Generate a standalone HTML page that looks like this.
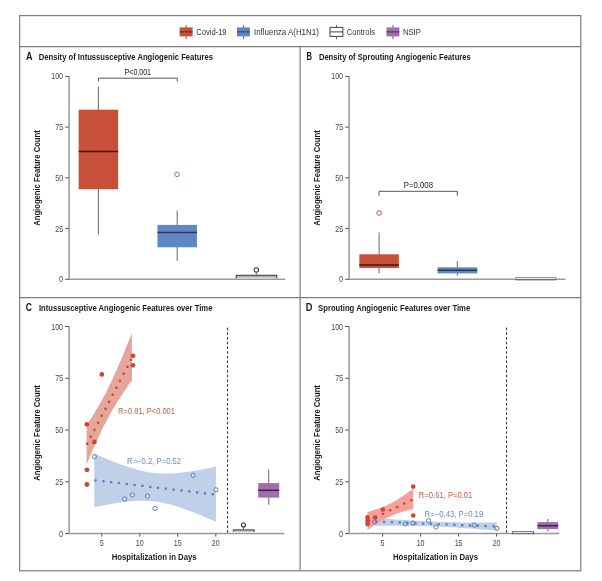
<!DOCTYPE html>
<html lang="en"><head><meta charset="utf-8"><title>Angiogenic Features</title>
<style>html,body{margin:0;padding:0;background:#fff}svg{display:block}text{font-family:"Liberation Sans",sans-serif;fill:#222}.t{font-size:9.9px;font-weight:bold;fill:#1a1a1a}.k{font-size:8.6px;fill:#4a4a4a}.l{font-size:8.6px;fill:#333}.tl{font-size:10.5px;font-weight:bold;fill:#1a1a1a}.b{font-size:9px;font-weight:bold;fill:#1a1a1a}.p{font-size:8.2px}</style></head><body>
<svg width="602" height="581" viewBox="0 0 602 581">
<rect width="602" height="581" fill="#fff"/>
<g fill="none" stroke="#7d7d82" stroke-width="1.2">
<rect x="19.6" y="15.6" width="561.2" height="555.2"/>
<path d="M19.6 46.6H580.8M19.6 297.55H580.8M300.1 46.6V570.8"/>
</g>
<path d="M186.14999999999998 25V39.2" stroke="#555" stroke-width="0.9" fill="none"/>
<rect x="179.7" y="27.4" width="12.9" height="9" fill="#C8503A" stroke="#C8503A" stroke-width="0"/>
<path d="M179.7 31.9H192.6" stroke="#5a2a20" stroke-width="1" fill="none"/>
<path d="M243.45 25V39.2" stroke="#555" stroke-width="0.9" fill="none"/>
<rect x="237" y="27.4" width="12.9" height="9" fill="#6086C4" stroke="#6086C4" stroke-width="0"/>
<path d="M237 31.9H249.9" stroke="#2a3f66" stroke-width="1" fill="none"/>
<path d="M336.45 25V39.2" stroke="#444" stroke-width="0.9" fill="none"/>
<rect x="330" y="27.4" width="12.9" height="9" fill="#fff" stroke="#444" stroke-width="1"/>
<path d="M330 31.9H342.9" stroke="#444" stroke-width="1" fill="none"/>
<path d="M392.95 25V39.2" stroke="#555" stroke-width="0.9" fill="none"/>
<rect x="386.5" y="27.4" width="12.9" height="9" fill="#A06EAF" stroke="#A06EAF" stroke-width="0"/>
<path d="M386.5 31.9H399.4" stroke="#4a2a55" stroke-width="1" fill="none"/>
<text class="l" x="196.2" y="35" textLength="30.4" lengthAdjust="spacingAndGlyphs">Covid-19</text>
<text class="l" x="254" y="35" textLength="64.8" lengthAdjust="spacingAndGlyphs">Influenza A(H1N1)</text>
<text class="l" x="346.8" y="35" textLength="28.2" lengthAdjust="spacingAndGlyphs">Controls</text>
<text class="l" x="402.9" y="35" textLength="18" lengthAdjust="spacingAndGlyphs">NSIP</text>
<text class="tl" x="26.0" y="59.8" textLength="6.5" lengthAdjust="spacingAndGlyphs">A</text>
<text class="t" x="38.8" y="59.8" textLength="174.2" lengthAdjust="spacingAndGlyphs">Density of Intussusceptive Angiogenic Features</text>
<text class="tl" x="306.4" y="59.8" textLength="5.5" lengthAdjust="spacingAndGlyphs">B</text>
<text class="t" x="318.9" y="59.8" textLength="151.8" lengthAdjust="spacingAndGlyphs">Density of Sprouting Angiogenic Features</text>
<text class="tl" x="25.8" y="310.8" textLength="6.2" lengthAdjust="spacingAndGlyphs">C</text>
<text class="t" x="38.9" y="310.8" textLength="173.5" lengthAdjust="spacingAndGlyphs">Intussusceptive Angiogenic Features over Time</text>
<text class="tl" x="305.8" y="310.8" textLength="6.7" lengthAdjust="spacingAndGlyphs">D</text>
<text class="t" x="318.1" y="310.8" textLength="152.1" lengthAdjust="spacingAndGlyphs">Sprouting Angiogenic Features over Time</text>
<path d="M69.1 75.9V279.3H285.2" fill="none" stroke="#999" stroke-width="1.5"/>
<path d="M65.1 76.4H68.89999999999999M65.1 127.12H68.89999999999999M65.1 177.85H68.89999999999999M65.1 228.58H68.89999999999999M65.1 279.3H68.89999999999999" fill="none" stroke="#555" stroke-width="1"/>
<text class="k" x="63.1" y="79.4" textLength="11.9" lengthAdjust="spacingAndGlyphs" text-anchor="end">100</text>
<text class="k" x="63.1" y="130.12" textLength="7.9" lengthAdjust="spacingAndGlyphs" text-anchor="end">75</text>
<text class="k" x="63.1" y="180.85" textLength="7.9" lengthAdjust="spacingAndGlyphs" text-anchor="end">50</text>
<text class="k" x="63.1" y="231.58" textLength="7.9" lengthAdjust="spacingAndGlyphs" text-anchor="end">25</text>
<text class="k" x="63.1" y="282.3" textLength="4.0" lengthAdjust="spacingAndGlyphs" text-anchor="end">0</text>
<text class="b" transform="translate(40.0 178) rotate(-90)" text-anchor="middle" textLength="95.5" lengthAdjust="spacingAndGlyphs">Angiogenic Feature Count</text>
<path d="M349.1 75.9V279.3H565.5" fill="none" stroke="#999" stroke-width="1.5"/>
<path d="M345.1 76.4H348.90000000000003M345.1 127.12H348.90000000000003M345.1 177.85H348.90000000000003M345.1 228.58H348.90000000000003M345.1 279.3H348.90000000000003" fill="none" stroke="#555" stroke-width="1"/>
<text class="k" x="343.1" y="79.4" textLength="11.9" lengthAdjust="spacingAndGlyphs" text-anchor="end">100</text>
<text class="k" x="343.1" y="130.12" textLength="7.9" lengthAdjust="spacingAndGlyphs" text-anchor="end">75</text>
<text class="k" x="343.1" y="180.85" textLength="7.9" lengthAdjust="spacingAndGlyphs" text-anchor="end">50</text>
<text class="k" x="343.1" y="231.58" textLength="7.9" lengthAdjust="spacingAndGlyphs" text-anchor="end">25</text>
<text class="k" x="343.1" y="282.3" textLength="4.0" lengthAdjust="spacingAndGlyphs" text-anchor="end">0</text>
<text class="b" transform="translate(320.0 178) rotate(-90)" text-anchor="middle" textLength="95.5" lengthAdjust="spacingAndGlyphs">Angiogenic Feature Count</text>
<path d="M69.1 326.0V533.5H284.4" fill="none" stroke="#999" stroke-width="1.5"/>
<path d="M65.1 326.5H68.89999999999999M65.1 378.25H68.89999999999999M65.1 430.0H68.89999999999999M65.1 481.75H68.89999999999999M65.1 533.5H68.89999999999999" fill="none" stroke="#555" stroke-width="1"/>
<text class="k" x="63.1" y="329.5" textLength="11.9" lengthAdjust="spacingAndGlyphs" text-anchor="end">100</text>
<text class="k" x="63.1" y="381.25" textLength="7.9" lengthAdjust="spacingAndGlyphs" text-anchor="end">75</text>
<text class="k" x="63.1" y="433.0" textLength="7.9" lengthAdjust="spacingAndGlyphs" text-anchor="end">50</text>
<text class="k" x="63.1" y="484.75" textLength="7.9" lengthAdjust="spacingAndGlyphs" text-anchor="end">25</text>
<text class="k" x="63.1" y="536.5" textLength="4.0" lengthAdjust="spacingAndGlyphs" text-anchor="end">0</text>
<text class="b" transform="translate(40.3 432.9) rotate(-90)" text-anchor="middle" textLength="95.5" lengthAdjust="spacingAndGlyphs">Angiogenic Feature Count</text>
<path d="M349.1 326.0V533.5H559.3" fill="none" stroke="#999" stroke-width="1.5"/>
<path d="M345.1 326.5H348.90000000000003M345.1 378.25H348.90000000000003M345.1 430.0H348.90000000000003M345.1 481.75H348.90000000000003M345.1 533.5H348.90000000000003" fill="none" stroke="#555" stroke-width="1"/>
<text class="k" x="343.1" y="329.5" textLength="11.9" lengthAdjust="spacingAndGlyphs" text-anchor="end">100</text>
<text class="k" x="343.1" y="381.25" textLength="7.9" lengthAdjust="spacingAndGlyphs" text-anchor="end">75</text>
<text class="k" x="343.1" y="433.0" textLength="7.9" lengthAdjust="spacingAndGlyphs" text-anchor="end">50</text>
<text class="k" x="343.1" y="484.75" textLength="7.9" lengthAdjust="spacingAndGlyphs" text-anchor="end">25</text>
<text class="k" x="343.1" y="536.5" textLength="4.0" lengthAdjust="spacingAndGlyphs" text-anchor="end">0</text>
<text class="b" transform="translate(320.3 432.9) rotate(-90)" text-anchor="middle" textLength="95.5" lengthAdjust="spacingAndGlyphs">Angiogenic Feature Count</text>
<path d="M98.5 81.5V78.2H177.3V81.5" fill="none" stroke="#444" stroke-width="0.9"/>
<text class="p" x="137.8" y="75.3" textLength="26.5" lengthAdjust="spacingAndGlyphs" text-anchor="middle">P&lt;0.001</text>
<path d="M98.4 86.5V234.4" stroke="#7c7c7c" stroke-width="1.15" fill="none"/>
<rect x="78.65" y="109.7" width="39.5" height="79.5" fill="#C8503A"/>
<path d="M78.65 151.5H118.15" stroke="#3a1a14" stroke-width="1.5" fill="none"/>
<path d="M177.2 210.4V261" stroke="#7c7c7c" stroke-width="1.15" fill="none"/>
<rect x="157.45" y="224.9" width="39.5" height="22.4" fill="#6086C4"/>
<path d="M157.45 232.6H196.95" stroke="#2a3a5a" stroke-width="1.5" fill="none"/>
<circle cx="177.05" cy="174.4" r="2.3" fill="#fff" stroke="#6086C4" stroke-width="1.0"/>
<rect x="236.2" y="275.5" width="40.5" height="3.2" fill="#cdcdcd"/>
<path d="M236.3 278.2V275.5H276.7V278.2" fill="none" stroke="#555" stroke-width="1.3" stroke-linejoin="round"/>
<path d="M256.3 272.6V275" stroke="#666" stroke-width="0.9"/>
<circle cx="256.3" cy="270" r="2.2" fill="#fff" stroke="#333" stroke-width="1.1"/>
<path d="M379 195.7V191.3H457.3V195.7" fill="none" stroke="#444" stroke-width="0.9"/>
<text class="p" x="418.4" y="187.9" textLength="29.2" lengthAdjust="spacingAndGlyphs" text-anchor="middle">P=0.008</text>
<path d="M379.1 232.6V273.4" stroke="#7c7c7c" stroke-width="1.15" fill="none"/>
<rect x="359.35" y="254.3" width="39.5" height="13.7" fill="#C8503A"/>
<path d="M359.35 264.9H398.85" stroke="#3a1a14" stroke-width="1.5" fill="none"/>
<circle cx="379.1" cy="213" r="2.3" fill="#fff" stroke="#C8503A" stroke-width="1.0"/>
<path d="M457.4 261V275.7" stroke="#7c7c7c" stroke-width="1.15" fill="none"/>
<rect x="437.6" y="267.3" width="39.6" height="6.1" fill="#6086C4"/>
<path d="M437.6 270.3H477.2" stroke="#2a3a5a" stroke-width="1.5" fill="none"/>
<rect x="515.9" y="277.4" width="39.9" height="2.3" fill="#ececec" stroke="#888" stroke-width="0.9"/>
<path d="M515.6 279.8H556.1" stroke="#555" stroke-width="0.9"/>
<path d="M94.3 453.6L99.4 455.8L104.4 457.9L109.5 460.0L114.6 462.0L119.6 464.0L124.7 465.8L129.8 467.5L134.8 469.0L139.9 470.4L145.0 471.5L150.0 472.5L155.1 473.1L160.2 473.5L165.2 473.6L170.3 473.5L175.4 473.2L180.4 472.7L185.5 472.1L190.6 471.4L195.6 470.6L200.7 469.7L205.8 468.7L210.8 467.7L215.9 466.6L215.9 521.8L210.8 519.6L205.8 517.4L200.7 515.3L195.6 513.2L190.6 511.3L185.5 509.4L180.4 507.6L175.4 506.0L170.3 504.5L165.2 503.3L160.2 502.3L155.1 501.5L150.0 501.0L145.0 500.8L139.9 500.7L134.8 501.0L129.8 501.3L124.7 501.9L119.6 502.6L114.6 503.4L109.5 504.2L104.4 505.2L99.4 506.2L94.3 507.2Z" fill="#BFD0E8"/>
<path d="M86.6 425.0L88.5 422.2L90.4 419.3L92.3 416.4L94.1 413.4L96.0 410.3L97.9 407.1L99.8 403.9L101.7 400.5L103.6 397.0L105.5 393.4L107.4 389.7L109.2 385.8L111.1 381.9L113.0 377.8L114.9 373.6L116.8 369.4L118.7 365.1L120.6 360.7L122.5 356.2L124.3 351.7L126.2 347.1L128.1 342.5L130.0 337.9L131.9 333.2L131.9 380.4L130.0 383.1L128.1 385.8L126.2 388.5L124.3 391.2L122.5 394.0L120.6 396.9L118.7 399.8L116.8 402.8L114.9 405.9L113.0 409.1L111.1 412.3L109.2 415.7L107.4 419.2L105.5 422.8L103.6 426.5L101.7 430.3L99.8 434.3L97.9 438.3L96.0 442.5L94.1 446.7L92.3 451.0L90.4 455.4L88.5 459.9L86.6 464.4Z" fill="#E4A59B"/>
<circle cx="87.1" cy="443.8" r="1.3" fill="#CD462D"/>
<circle cx="90.8" cy="436.8" r="1.3" fill="#CD462D"/>
<circle cx="94.4" cy="429.8" r="1.3" fill="#CD462D"/>
<circle cx="98.1" cy="422.8" r="1.3" fill="#CD462D"/>
<circle cx="101.7" cy="415.8" r="1.3" fill="#CD462D"/>
<circle cx="105.4" cy="408.8" r="1.3" fill="#CD462D"/>
<circle cx="109.1" cy="401.8" r="1.3" fill="#CD462D"/>
<circle cx="112.7" cy="394.8" r="1.3" fill="#CD462D"/>
<circle cx="116.4" cy="387.8" r="1.3" fill="#CD462D"/>
<circle cx="120.0" cy="380.8" r="1.3" fill="#CD462D"/>
<circle cx="123.7" cy="373.8" r="1.3" fill="#CD462D"/>
<circle cx="127.4" cy="366.8" r="1.3" fill="#CD462D"/>
<circle cx="131.0" cy="359.8" r="1.3" fill="#CD462D"/>
<rect x="94.3" y="479.2" width="2.3" height="2.3" fill="#5580C4"/>
<rect x="102.2" y="480.1" width="2.3" height="2.3" fill="#5580C4"/>
<rect x="110.0" y="481.0" width="2.3" height="2.3" fill="#5580C4"/>
<rect x="117.8" y="481.9" width="2.3" height="2.3" fill="#5580C4"/>
<rect x="125.6" y="482.9" width="2.3" height="2.3" fill="#5580C4"/>
<rect x="133.4" y="483.8" width="2.3" height="2.3" fill="#5580C4"/>
<rect x="141.3" y="484.7" width="2.3" height="2.3" fill="#5580C4"/>
<rect x="149.1" y="485.7" width="2.3" height="2.3" fill="#5580C4"/>
<rect x="156.9" y="486.6" width="2.3" height="2.3" fill="#5580C4"/>
<rect x="164.7" y="487.5" width="2.3" height="2.3" fill="#5580C4"/>
<rect x="172.5" y="488.5" width="2.3" height="2.3" fill="#5580C4"/>
<rect x="180.4" y="489.4" width="2.3" height="2.3" fill="#5580C4"/>
<rect x="188.2" y="490.3" width="2.3" height="2.3" fill="#5580C4"/>
<rect x="196.0" y="491.2" width="2.3" height="2.3" fill="#5580C4"/>
<rect x="203.8" y="492.2" width="2.3" height="2.3" fill="#5580C4"/>
<rect x="211.7" y="493.1" width="2.3" height="2.3" fill="#5580C4"/>
<circle cx="132.9" cy="355.8" r="2.4" fill="#CD462D"/>
<circle cx="132.9" cy="365.3" r="2.4" fill="#CD462D"/>
<circle cx="101.8" cy="374.4" r="2.4" fill="#CD462D"/>
<circle cx="86.9" cy="424.3" r="2.4" fill="#CD462D"/>
<circle cx="94.4" cy="442" r="2.4" fill="#CD462D"/>
<circle cx="86.9" cy="469.8" r="2.4" fill="#CD462D"/>
<circle cx="86.9" cy="484.5" r="2.4" fill="#CD462D"/>
<circle cx="94.4" cy="456.7" r="2.1" fill="rgba(255,255,255,0.4)" stroke="#5580C4" stroke-width="1.0"/>
<circle cx="124.7" cy="499" r="2.1" fill="rgba(255,255,255,0.4)" stroke="#5580C4" stroke-width="1.0"/>
<circle cx="132.3" cy="495" r="2.1" fill="rgba(255,255,255,0.4)" stroke="#5580C4" stroke-width="1.0"/>
<circle cx="147.5" cy="496.1" r="2.1" fill="rgba(255,255,255,0.4)" stroke="#5580C4" stroke-width="1.0"/>
<circle cx="155.1" cy="508.4" r="2.1" fill="rgba(255,255,255,0.4)" stroke="#5580C4" stroke-width="1.0"/>
<circle cx="193" cy="475.3" r="2.1" fill="rgba(255,255,255,0.4)" stroke="#5580C4" stroke-width="1.0"/>
<circle cx="215.9" cy="489.8" r="2.1" fill="rgba(255,255,255,0.4)" stroke="#5580C4" stroke-width="1.0"/>
<text class="p" x="118.1" y="413.5" textLength="56.9" lengthAdjust="spacingAndGlyphs" style="fill:#C85C46">R=0.81, P&lt;0.001</text>
<text class="p" x="127.1" y="464.2" textLength="54" lengthAdjust="spacingAndGlyphs" style="fill:#668CCA">R=−0.2, P=0.52</text>
<path d="M227.55 327.6V533.4" stroke="#2a2a2a" stroke-width="1" stroke-dasharray="2.6 2.11" fill="none"/>
<rect x="233.2" y="530" width="21" height="1.9" fill="#c4c4c4"/>
<path d="M233.3 531.8V529.9H254.3V531.8" fill="none" stroke="#555" stroke-width="1.1" stroke-linejoin="round"/>
<path d="M243.5 527.3V529.5" stroke="#555" stroke-width="0.9"/>
<circle cx="243.5" cy="525" r="2.0" fill="#fff" stroke="#333" stroke-width="1.1"/>
<path d="M268.7 469.6V504.8" stroke="#7c7c7c" stroke-width="1.15" fill="none"/>
<rect x="258.2" y="483.1" width="21" height="14.5" fill="#A06EAF"/>
<path d="M258.2 490.3H279.2" stroke="#3a2440" stroke-width="1.5" fill="none"/>
<path d="M374.8 517.8L379.9 518.2L385.0 518.6L390.1 519.0L395.1 519.4L400.2 519.7L405.3 520.1L410.4 520.4L415.5 520.7L420.6 521.0L425.6 521.3L430.7 521.5L435.8 521.7L440.9 521.9L446.0 522.1L451.1 522.2L456.1 522.3L461.2 522.4L466.3 522.4L471.4 522.4L476.5 522.5L481.6 522.5L486.6 522.5L491.7 522.5L496.8 522.4L496.8 530.6L491.7 530.1L486.6 529.7L481.6 529.4L476.5 529.0L471.4 528.6L466.3 528.2L461.2 527.9L456.1 527.6L451.1 527.3L446.0 527.0L440.9 526.8L435.8 526.6L430.7 526.4L425.6 526.2L420.6 526.1L415.5 526.0L410.4 525.9L405.3 525.9L400.2 525.8L395.1 525.8L390.1 525.8L385.0 525.8L379.9 525.8L374.8 525.8Z" fill="#BFD0E8"/>
<path d="M367.4 512.0L369.3 511.5L371.2 511.0L373.1 510.4L375.0 509.8L376.9 509.2L378.8 508.6L380.8 507.9L382.7 507.1L384.6 506.3L386.5 505.5L388.4 504.6L390.3 503.6L392.2 502.6L394.1 501.5L396.0 500.4L397.9 499.2L399.8 498.0L401.8 496.7L403.7 495.5L405.6 494.2L407.5 492.8L409.4 491.5L411.3 490.1L413.2 488.7L413.2 509.1L411.3 509.6L409.4 510.0L407.5 510.5L405.6 511.0L403.7 511.5L401.8 512.1L399.8 512.7L397.9 513.3L396.0 514.0L394.1 514.7L392.2 515.5L390.3 516.3L388.4 517.2L386.5 518.1L384.6 519.1L382.7 520.1L380.8 521.2L378.8 522.4L376.9 523.6L375.0 524.8L373.1 526.1L371.2 527.3L369.3 528.7L367.4 530.0Z" fill="#F5A09B"/>
<circle cx="368.9" cy="520.4" r="1.3" fill="#CD462D"/>
<circle cx="376.0" cy="517.0" r="1.3" fill="#CD462D"/>
<circle cx="383.0" cy="513.7" r="1.3" fill="#CD462D"/>
<circle cx="390.1" cy="510.3" r="1.3" fill="#CD462D"/>
<circle cx="397.2" cy="507.0" r="1.3" fill="#CD462D"/>
<circle cx="404.2" cy="503.6" r="1.3" fill="#CD462D"/>
<circle cx="411.3" cy="500.3" r="1.3" fill="#CD462D"/>
<rect x="375.1" y="520.5" width="2.3" height="2.3" fill="#5580C4"/>
<rect x="382.9" y="520.8" width="2.3" height="2.3" fill="#5580C4"/>
<rect x="390.7" y="521.1" width="2.3" height="2.3" fill="#5580C4"/>
<rect x="398.5" y="521.4" width="2.3" height="2.3" fill="#5580C4"/>
<rect x="406.3" y="521.7" width="2.3" height="2.3" fill="#5580C4"/>
<rect x="414.2" y="522.1" width="2.3" height="2.3" fill="#5580C4"/>
<rect x="422.0" y="522.4" width="2.3" height="2.3" fill="#5580C4"/>
<rect x="429.8" y="522.7" width="2.3" height="2.3" fill="#5580C4"/>
<rect x="437.6" y="523.0" width="2.3" height="2.3" fill="#5580C4"/>
<rect x="445.4" y="523.3" width="2.3" height="2.3" fill="#5580C4"/>
<rect x="453.2" y="523.7" width="2.3" height="2.3" fill="#5580C4"/>
<rect x="461.1" y="524.0" width="2.3" height="2.3" fill="#5580C4"/>
<rect x="468.9" y="524.3" width="2.3" height="2.3" fill="#5580C4"/>
<rect x="476.7" y="524.6" width="2.3" height="2.3" fill="#5580C4"/>
<rect x="484.5" y="524.9" width="2.3" height="2.3" fill="#5580C4"/>
<rect x="492.4" y="525.2" width="2.3" height="2.3" fill="#5580C4"/>
<circle cx="367.5" cy="517.4" r="2.3" fill="#CD462D"/>
<circle cx="367.5" cy="520.9" r="2.3" fill="#CD462D"/>
<circle cx="367.5" cy="524" r="2.3" fill="#CD462D"/>
<circle cx="375.2" cy="517.5" r="2.3" fill="#CD462D"/>
<circle cx="382.9" cy="509.5" r="2.3" fill="#CD462D"/>
<circle cx="413.2" cy="486.6" r="2.3" fill="#CD462D"/>
<circle cx="413.2" cy="515.5" r="2.3" fill="#CD462D"/>
<circle cx="374.9" cy="522" r="2.1" fill="none" stroke="#5580C4" stroke-width="1.0"/>
<circle cx="405.5" cy="523.9" r="2.1" fill="none" stroke="#5580C4" stroke-width="1.0"/>
<circle cx="413" cy="523.1" r="2.1" fill="none" stroke="#5580C4" stroke-width="1.0"/>
<circle cx="428.5" cy="520.7" r="2.1" fill="none" stroke="#5580C4" stroke-width="1.0"/>
<circle cx="435.9" cy="527" r="2.1" fill="none" stroke="#5580C4" stroke-width="1.0"/>
<circle cx="474.3" cy="525.1" r="2.1" fill="none" stroke="#5580C4" stroke-width="1.0"/>
<circle cx="496.8" cy="528.4" r="2.1" fill="none" stroke="#5580C4" stroke-width="1.0"/>
<text class="p" x="418.8" y="498.3" textLength="53.5" lengthAdjust="spacingAndGlyphs" style="fill:#C85C46">R=0.61, P=0.01</text>
<text class="p" x="424.6" y="516.9" textLength="58.6" lengthAdjust="spacingAndGlyphs" style="fill:#668CCA">R=−0.43, P=0.19</text>
<path d="M506.55 327.6V533.4" stroke="#2a2a2a" stroke-width="1" stroke-dasharray="2.6 2.11" fill="none"/>
<rect x="512.6" y="531.7" width="21" height="2" fill="#fff" stroke="#555" stroke-width="0.9"/>
<path d="M547.8 519.1V531.2" stroke="#7c7c7c" stroke-width="1.15" fill="none"/>
<rect x="537.4" y="522.1" width="20.8" height="7.0" fill="#A06EAF"/>
<path d="M537.4 525.7H558.2" stroke="#3a2440" stroke-width="1.5" fill="none"/>
<text class="k" x="101.8" y="545.9000000000001" textLength="4.0" lengthAdjust="spacingAndGlyphs" text-anchor="middle">5</text>
<text class="k" x="139.8" y="545.9000000000001" textLength="7.9" lengthAdjust="spacingAndGlyphs" text-anchor="middle">10</text>
<text class="k" x="177.7" y="545.9000000000001" textLength="7.9" lengthAdjust="spacingAndGlyphs" text-anchor="middle">15</text>
<text class="k" x="215.8" y="545.9000000000001" textLength="7.9" lengthAdjust="spacingAndGlyphs" text-anchor="middle">20</text>
<path d="M101.8 533.5V536.6M139.8 533.5V536.6M177.7 533.5V536.6M215.8 533.5V536.6" stroke="#555" stroke-width="1" fill="none"/>
<text class="b" x="111.7" y="560.4000000000001" textLength="85.0" lengthAdjust="spacingAndGlyphs">Hospitalization in Days</text>
<text class="k" x="382.6" y="545.9000000000001" textLength="4.0" lengthAdjust="spacingAndGlyphs" text-anchor="middle">5</text>
<text class="k" x="420.6" y="545.9000000000001" textLength="7.9" lengthAdjust="spacingAndGlyphs" text-anchor="middle">10</text>
<text class="k" x="458.6" y="545.9000000000001" textLength="7.9" lengthAdjust="spacingAndGlyphs" text-anchor="middle">15</text>
<text class="k" x="496.6" y="545.9000000000001" textLength="7.9" lengthAdjust="spacingAndGlyphs" text-anchor="middle">20</text>
<path d="M382.6 533.5V536.6M420.6 533.5V536.6M458.6 533.5V536.6M496.6 533.5V536.6" stroke="#555" stroke-width="1" fill="none"/>
<text class="b" x="393" y="560.4000000000001" textLength="85" lengthAdjust="spacingAndGlyphs">Hospitalization in Days</text>
</svg></body></html>
